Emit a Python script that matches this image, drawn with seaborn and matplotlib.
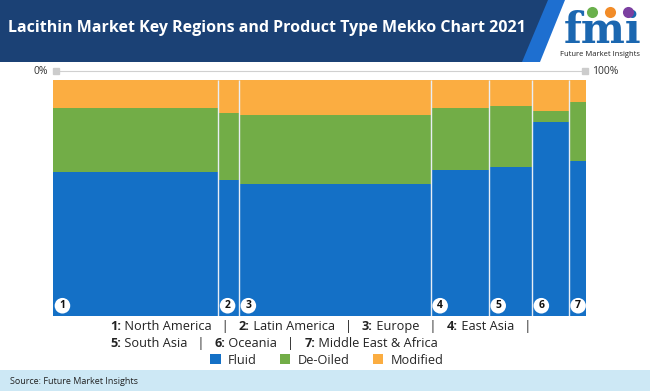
import matplotlib
matplotlib.use('Agg')
import numpy as np
import pandas as pd
import matplotlib.pyplot as plt
import seaborn as sns
from matplotlib.patches import Rectangle, Polygon
from matplotlib.lines import Line2D
from matplotlib.offsetbox import TextArea, HPacker, VPacker, AnchoredOffsetbox

# data (shares in %)
regions = ['North America', 'Latin America', 'Europe', 'East Asia',
           'South Asia', 'Oceania', 'Middle East & Africa']
region_width = [31.0, 3.9, 36.0, 10.9, 8.1, 6.9, 3.2]
fluid = [61.1, 57.5, 56.1, 61.7, 63.1, 82.1, 65.7]
de_oiled = [26.9, 28.6, 29.0, 26.5, 26.0, 4.7, 25.0]
modified = [12.0, 13.9, 14.9, 11.8, 10.9, 13.2, 9.3]
products = ['Fluid', 'De-Oiled', 'Modified']
colors = ['#1470c6', '#72ad47', '#fbad41']

df = pd.DataFrame({'region': regions, 'width': region_width,
                   'Fluid': fluid, 'De-Oiled': de_oiled, 'Modified': modified})
df['left'] = df['width'].cumsum() - df['width']

sns.set_theme(style='white')
plt.rcParams['font.family'] = ['Open Sans', 'DejaVu Sans']

W, H = 650, 391
fig = plt.figure(figsize=(6.5, 3.91), dpi=100)

def fx(px):
    return px / W

def fy(py):
    return 1 - py / H

# header band
fig.patches.append(Rectangle((0, fy(62)), 1, 62 / H, transform=fig.transFigure,
                             facecolor='#1b4175', edgecolor='none', zorder=0))
fig.patches.append(Polygon([(fx(522), fy(62)), (fx(548), fy(0)), (fx(650), fy(0)), (fx(650), fy(62))],
                           closed=True, transform=fig.transFigure, facecolor='#1e6fd0',
                           edgecolor='none', zorder=1))
fig.patches.append(Polygon([(fx(540), fy(62)), (fx(565), fy(0)), (fx(650), fy(0)), (fx(650), fy(62))],
                           closed=True, transform=fig.transFigure, facecolor='white',
                           edgecolor='none', zorder=2))
fig.text(fx(8), fy(28), 'Lacithin Market Key Regions and Product Type Mekko Chart 2021',
         color='white', fontsize=11.5, fontweight='bold', va='center', ha='left', zorder=5)

# logo
fig.text(fx(603), fy(31), 'fmi', color='#1b67b0', fontsize=30, fontweight='bold',
         family='DejaVu Serif', ha='center', va='center', zorder=5)
for cx, c in zip([592, 610, 628], ['#6ab04c', '#f28c28', '#7b3fa0']):
    fig.add_artist(Line2D([fx(cx)], [fy(12)], transform=fig.transFigure, marker='o',
                          markersize=8, color=c, markeredgecolor='none', zorder=6))
fig.text(fx(600), fy(54), 'Future Market Insights', color='#222222', fontsize=5.5,
         ha='center', va='center', zorder=5)

# top scale 0% - 100%
fig.add_artist(Line2D([fx(56), fx(585)], [fy(71), fy(71)], transform=fig.transFigure,
                      color='#d0d0d0', lw=0.8, marker='s', markersize=5,
                      markerfacecolor='#cccccc', markeredgecolor='#cccccc'))
fig.text(fx(48), fy(71), '0%', fontsize=7.5, color='#333333', ha='right', va='center')
fig.text(fx(592), fy(71), '100%', fontsize=7.5, color='#333333', ha='left', va='center')

# mekko
ax = fig.add_axes([fx(53), fy(316), fx(585.7) - fx(53), (316 - 80) / H])
bottom = np.zeros(len(df))
for prod, col in zip(products, colors):
    ax.bar(df['left'], df[prod], width=df['width'], bottom=bottom, align='edge',
           color=col, edgecolor='none', linewidth=0)
    bottom += df[prod].values
ax.vlines(df['left'].values[1:], 0, 100, color='#e8eef5', lw=1.0)
ax.set_xlim(0, df['width'].sum())
ax.set_ylim(0, 100)
ax.axis('off')

for i, left in enumerate(df['left']):
    ax.annotate(str(i + 1), xy=(left, 0), xytext=(6.8, 7.4), textcoords='offset points',
                ha='center', va='center', fontsize=7.5, fontweight='bold', color='#111111',
                bbox=dict(boxstyle='circle,pad=0.22', fc='white', ec='none'))

# region key text
def piece(s, bold=False):
    return TextArea(s, textprops=dict(fontsize=9.2, color='#222222',
                                      fontweight='bold' if bold else 'normal'))

line1 = [piece('1:', True), piece(' North America   |   '), piece('2:', True),
         piece(' Latin America   |   '), piece('3:', True), piece(' Europe   |   '),
         piece('4:', True), piece(' East Asia   |')]
line2 = [piece('5:', True), piece(' South Asia   |   '), piece('6:', True),
         piece(' Oceania   |   '), piece('7:', True), piece(' Middle East & Africa')]
box = VPacker(children=[HPacker(children=line1, sep=0, align='baseline'),
                        HPacker(children=line2, sep=0, align='baseline')],
              sep=3, align='left')
anch = AnchoredOffsetbox(loc='upper left', child=box, frameon=False, pad=0, borderpad=0,
                         bbox_to_anchor=(fx(110), fy(320)), bbox_transform=fig.transFigure)
fig.add_artist(anch)

handles = [Rectangle((0, 0), 1, 1, facecolor=c, edgecolor='none') for c in colors]
fig.legend(handles, products, loc='center', bbox_to_anchor=(fx(327), fy(360)), ncol=3,
           frameon=False, fontsize=9.2, handlelength=0.8, handleheight=0.8,
           handletextpad=0.6, columnspacing=1.8, borderaxespad=0, borderpad=0)

# source band
fig.patches.append(Rectangle((0, 0), 1, 21 / H, transform=fig.transFigure,
                             facecolor='#cde8f5', edgecolor='none', zorder=0))
fig.text(fx(10), fy(381), 'Source: Future Market Insights', fontsize=6.5,
         color='#222222', ha='left', va='center')

fig.savefig('out.png', dpi=100)
